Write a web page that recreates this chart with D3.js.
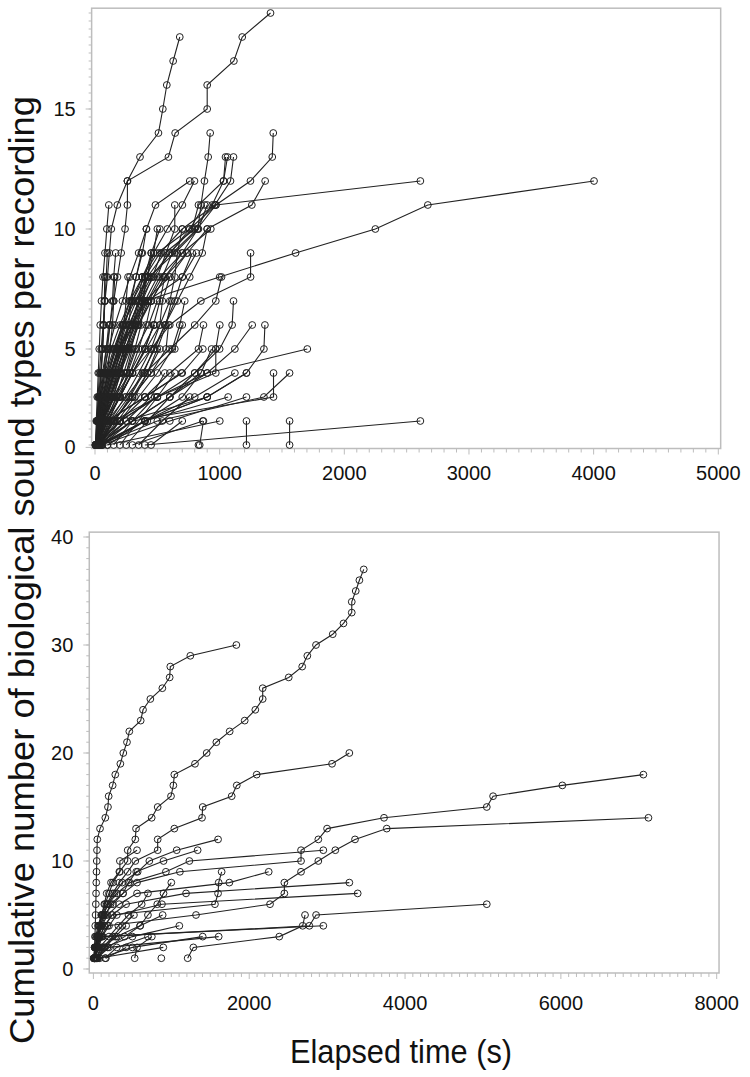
<!DOCTYPE html>
<html><head><meta charset="utf-8">
<script src="https://cdn.jsdelivr.net/npm/d3@7"></script>
<style>body{margin:0;background:#fff;} svg{display:block;font-family:"Liberation Sans",Arial,sans-serif;}</style>
</head><body><svg id="chart" width="750" height="1077"></svg>
<script>
// ---------- data ----------
const topXTicks = [0, 1000, 2000, 3000, 4000, 5000];
const topYTicks = [5, 10, 15];
const topYTickLabels = ["0", "5", "10", "15"];
const bottomXTicks = [0, 2000, 4000, 6000, 8000];
const bottomYTicks = [0, 10, 20, 30, 40];
const xTitle = "Elapsed time (s)";
const yTitle = "Cumulative number of biological sound types per recording";

// each series: [elapsed time (s), cumulative number of sound types]
const topSeries = [
 [[5,1],[15,2],[25,3],[35,4],[50,5],[65,6],[80,7],[100,8],[115,9],[131,10],[179,11],[260,12],[361,13],[509,14],[544,15],[576,16],[627,17],[680,18]],
 [[10,1],[20,2],[40,3],[60,4],[90,5],[120,6],[150,7],[180,8],[210,9],[241,10],[260,11],[260,12],[589,13],[643,14],[900,15],[900,16],[1114,17],[1181,18],[1408,19]],
 [[20,1],[40,2],[80,3],[130,4],[200,5],[300,6],[420,7],[520,8],[700,9],[825,10],[850,11],[878,12],[908,13],[924,14]],
 [[30,1],[70,2],[130,3],[200,4],[280,5],[350,6],[430,7],[540,8],[620,9],[820,10],[970,11],[1247,12],[1422,13],[1430,14]],
 [[15,1],[30,2],[60,3],[110,4],[170,5],[230,6],[300,7],[400,8],[520,9],[700,10],[960,11],[1087,12],[1111,13]],
 [[10,1],[25,2],[55,3],[90,4],[150,5],[220,6],[320,7],[420,8],[560,9],[800,10],[940,11],[1031,12],[1063,13]],
 [[12,1],[35,2],[70,3],[120,4],[190,5],[270,6],[360,7],[470,8],[600,9],[780,10],[830,11],[1031,12],[1047,13]],
 [[25,1],[60,2],[120,3],[180,4],[260,5],[340,6],[450,7],[560,8],[740,9],[900,10],[1258,11],[1365,12]],
 [[8,1],[20,2],[45,3],[80,4],[130,5],[200,6],[280,7],[380,8],[500,9],[760,10],[970,11],[2610,12]],
 [[30,1],[60,2],[100,3],[150,4],[220,5],[300,6],[400,7],[1000,8],[1609,9],[2249,10],[2670,11],[4003,12]],
 [[10,1],[30,2],[60,3],[100,4],[160,5],[230,6],[300,7],[380,8],[470,9],[580,10],[701,11],[798,12]],
 [[5,1],[20,2],[40,3],[70,4],[110,5],[160,6],[220,7],[280,8],[350,9],[413,10],[485,11],[760,12]],
 [[20,1],[50,2],[90,3],[140,4],[200,5],[280,6],[350,7],[450,8],[600,9],[760,10],[880,11]],
 [[15,1],[45,2],[80,3],[130,4],[190,5],[250,6],[330,7],[430,8],[640,9],[830,10],[900,11]],
 [[25,1],[55,2],[100,3],[160,4],[240,5],[320,6],[400,7],[500,8],[570,9],[640,10],[640,11]],
 [[10,1],[30,2],[60,3],[110,4],[160,5],[220,6],[280,7],[330,8],[380,9],[412,10]],
 [[20,1],[50,2],[90,3],[150,4],[210,5],[280,6],[350,7],[420,8],[453,9],[520,10]],
 [[30,1],[70,2],[120,3],[190,4],[270,5],[350,6],[450,7],[560,8],[700,9],[929,10]],
 [[5,1],[15,2],[30,3],[45,4],[60,5],[70,6],[80,7],[90,8],[99,9]],
 [[10,1],[25,2],[50,3],[80,4],[100,5],[120,6],[140,7],[150,8],[166,9]],
 [[20,1],[40,2],[80,3],[130,4],[180,5],[240,6],[290,7],[330,8],[372,9]],
 [[15,1],[40,2],[90,3],[150,4],[220,5],[300,6],[380,7],[460,8],[533,9]],
 [[30,1],[60,2],[110,3],[170,4],[240,5],[330,6],[420,7],[701,8],[814,9]],
 [[25,1],[80,2],[200,3],[300,4],[450,5],[600,6],[849,7],[1248,8],[1248,9]],
 [[5,1],[30,2],[70,3],[120,4],[190,5],[280,6],[400,7],[600,8],[739,9]],
 [[5,1],[20,2],[35,3],[50,4],[60,5],[70,6],[75,7],[78,8]],
 [[15,1],[40,2],[70,3],[100,4],[120,5],[140,6],[150,7],[158,8]],
 [[10,1],[50,2],[100,3],[160,4],[200,5],[230,6],[250,7],[265,8]],
 [[20,1],[60,2],[150,3],[250,4],[320,5],[370,6],[390,7],[399,8]],
 [[30,1],[100,2],[200,3],[300,4],[400,5],[470,6],[520,7],[560,8]],
 [[10,1],[100,2],[250,3],[400,4],[600,5],[800,6],[969,7],[1015,8]],
 [[10,1],[20,2],[35,3],[50,4],[60,5],[70,6],[78,7]],
 [[20,1],[60,2],[120,3],[180,4],[230,5],[270,6],[292,7]],
 [[15,1],[80,2],[180,3],[280,4],[350,5],[410,6],[453,7]],
 [[40,1],[150,2],[300,3],[420,4],[500,5],[570,6],[613,7]],
 [[20,1],[200,2],[500,3],[800,4],[1000,5],[1100,6],[1111,7]],
 [[10,1],[30,2],[50,3],[70,4],[90,5],[110,6]],
 [[20,1],[80,2],[200,3],[300,4],[400,5],[470,6]],
 [[30,1],[150,2],[300,3],[450,4],[570,5],[590,6]],
 [[10,1],[200,2],[400,3],[600,4],[830,5],[870,6]],
 [[50,1],[300,2],[600,3],[800,4],[969,5],[1001,6]],
 [[20,1],[150,2],[500,3],[900,4],[1122,5],[1261,6]],
 [[40,1],[400,2],[900,3],[1215,4],[1355,5],[1363,6]],
 [[10,1],[300,2],[600,3],[900,4],[1703,5]],
 [[30,1],[200,2],[500,3],[969,4],[969,5]],
 [[15,1],[100,2],[400,3],[700,4],[865,5]],
 [[60,1],[400,2],[700,3],[850,4],[935,5]],
 [[20,1],[80,2],[150,3],[250,4],[300,5]],
 [[5,1],[40,2],[120,3],[200,4],[240,5]],
 [[30,1],[500,2],[1355,3],[1561,4]],
 [[20,1],[300,2],[1432,3],[1432,4]],
 [[10,1],[250,2],[900,3],[1215,4]],
 [[40,1],[400,2],[800,3],[1122,4]],
 [[10,1],[100,2],[400,3],[694,4]],
 [[50,1],[600,2],[1215,3]],
 [[20,1],[400,2],[1068,3]],
 [[100,1],[400,2],[900,3]],
 [[400,1],[2610,2]],
 [[1561,1],[1561,2]],
 [[1215,1],[1215,2]],
 [[100,1],[1001,2]],
 [[300,1],[865,2]],
 [[840,1],[870,2]],
 [[830,1]],
 [[5,1],[50,2],[150,3],[200,4],[250,5],[300,6],[350,7],[380,8]],
 [[15,1],[100,2],[200,3],[260,4],[330,5],[430,6],[500,7]],
 [[30,1],[120,2],[240,3],[350,4],[450,5],[520,6],[540,7],[600,8]],
 [[8,1],[60,2],[160,3],[280,4],[380,5],[480,6]],
 [[20,1],[180,2],[320,3],[420,4],[520,5]],
 [[40,1],[250,2],[450,3],[560,4]],
 [[10,1],[140,2],[300,3],[450,4],[640,5],[700,6]],
 [[60,1],[200,2],[350,3],[500,4],[620,5],[680,6],[720,7]],
 [[25,1],[90,2],[170,3],[230,4],[290,5],[340,6],[380,7],[420,8],[470,9],[500,10]],
 [[12,1],[70,2],[140,3],[210,4],[260,5],[310,6],[360,7],[400,8],[450,9]],
 [[35,1],[110,2],[190,3],[300,4],[410,5],[520,6],[600,7],[640,8],[660,9],[700,10]],
 [[200,1],[350,2],[500,3],[640,4]],
 [[150,1],[300,2],[480,3]],
 [[250,1],[420,2],[600,3],[850,4]],
 [[350,1],[540,2],[760,3]],
 [[450,1],[700,2]],
 [[5,1],[10,2],[18,3],[26,4],[34,5],[42,6],[52,7],[64,8],[80,9],[95,10],[111,11]],
 [[40,1],[130,2],[270,3],[380,4],[480,5],[560,6],[640,7],[700,8],[780,9]],
 [[18,1],[160,2],[280,3],[390,4],[470,5],[560,6],[660,7],[760,8],[860,9],[900,10]]
];

const bottomSeries = [
 [[10,1],[15,2],[20,3],[24,4],[28,5],[31,6],[34,7],[37,8],[40,9],[43,10],[46,11],[50,12],[85,13],[153,14],[187,15],[196,16],[247,17],[281,18],[346,19],[384,20],[431,21],[461,22],[607,23],[637,24],[731,25],[885,26],[979,27],[987,28],[1244,29],[1835,30]],
 [[5,1],[24,2],[55,3],[76,4],[110,5],[140,6],[171,7],[226,8],[333,9],[440,10],[440,11],[538,12],[547,13],[748,14],[825,15],[996,16],[1026,17],[1039,18],[1304,19],[1454,20],[1578,21],[1749,22],[1942,23],[2078,24],[2173,25],[2173,26],[2507,27],[2680,28],[2746,29],[2857,30],[3072,31],[3210,32],[3316,33],[3316,34],[3367,35],[3414,36],[3470,37]],
 [[15,1],[30,2],[45,3],[70,4],[110,5],[171,6],[248,7],[333,8],[440,9],[538,10],[825,11],[825,12],[1039,13],[1394,14],[1403,15],[1775,16],[1840,17],[2096,18],[3063,19],[3285,20]],
 [[15,1],[40,2],[60,3],[90,4],[140,5],[250,6],[380,7],[560,8],[1110,9],[2665,10],[2665,11],[2887,12],[2999,13],[3730,14],[5049,15],[5130,16],[6019,17],[7059,18]],
 [[20,1],[50,2],[100,3],[180,4],[1317,5],[2267,6],[2451,7],[2451,8],[2665,9],[2887,10],[3105,11],[3358,12],[3765,13],[7124,14]],
 [[10,1],[30,2],[55,3],[90,4],[130,5],[185,6],[270,7],[370,8],[568,9],[718,10],[1069,11],[1600,12]],
 [[5,1],[20,2],[45,3],[75,4],[120,5],[190,6],[300,7],[470,8],[930,9],[1232,10],[2951,11]],
 [[10,1],[35,2],[70,3],[110,4],[180,5],[330,6],[560,7],[1745,8],[2250,9]],
 [[15,1],[40,2],[80,3],[150,4],[240,5],[1560,6],[1600,7],[1608,8],[1646,9]],
 [[20,1],[45,2],[85,3],[140,4],[240,5],[420,6],[1189,7],[3285,8]],
 [[25,1],[60,2],[110,3],[200,4],[300,5],[880,6],[3392,7]],
 [[20,1],[60,2],[120,3],[2772,4],[2858,5],[5049,6]],
 [[1210,1],[1283,2],[2386,3],[2686,4],[2716,5]],
 [[10,1],[40,2],[100,3],[2951,4]],
 [[50,1],[200,2],[1608,3]],
 [[80,1],[500,2],[1403,3]],
 [[40,1],[140,2],[500,3],[1103,4]],
 [[15,1],[40,2],[60,3],[100,4],[160,5],[220,6],[380,7],[450,8],[550,9],[900,10],[1338,11]],
 [[30,1],[100,2],[300,3],[600,4],[889,5]],
 [[872,1]],
 [[60,1],[897,2]],
 [[150,1],[300,2],[700,3]],
 [[5,1],[15,2],[30,3],[60,4],[100,5],[150,6],[200,7],[250,8],[340,9],[340,10],[560,11]],
 [[160,1],[420,2]],
 [[530,1],[560,2],[750,3]],
 [[40,1],[180,2],[400,3],[600,4],[700,5],[820,6],[900,7],[1000,8]],
 [[10,1],[80,2],[200,3],[320,4],[450,5],[620,6],[700,7]],
 [[30,1],[120,2],[250,3],[370,4],[520,5]],
 [[50,1],[150,2],[280,3],[420,4]]
];

// ---------- drawing ----------
const svg = d3.select("#chart");
const AXIS = "#bdbdbd";
const INK = "#222";

function drawPanel(cfg) {
  const g = svg.append("g");
  const x = d3.scaleLinear().domain(cfg.xDomain).range(cfg.xRange);
  const y = d3.scaleLinear().domain(cfg.yDomain).range(cfg.yRange);
  const L = x(cfg.xMin), R = x(cfg.xMax), T = y(cfg.yMax), B = y(cfg.yMin);

  g.append("rect").attr("x", L).attr("y", T).attr("width", R - L).attr("height", B - T)
    .attr("fill", "none").attr("stroke", AXIS).attr("stroke-width", 1.5);

  d3.range(cfg.xDomain[0], cfg.xDomain[1] + 1, cfg.xMinor).forEach(v => {
    const major = cfg.xTicks.includes(v);
    g.append("line").attr("x1", x(v)).attr("x2", x(v)).attr("y1", B).attr("y2", B + (major ? 6 : 4))
      .attr("stroke", AXIS).attr("stroke-width", 1);
  });
  g.selectAll(".xl").data(cfg.xTicks).enter().append("text")
    .attr("x", d => x(d)).attr("y", B + cfg.xLabelOffset)
    .attr("text-anchor", "middle").attr("font-size", 20).attr("fill", "#111")
    .text(d => d);

  d3.range(0, 400).map(i => cfg.yMinorStart + i * cfg.yMinor).filter(v => v <= cfg.yMax + 1e-6 && v >= cfg.yMin - 1e-6)
    .forEach(v => {
      g.append("line").attr("x1", L - 3).attr("x2", L).attr("y1", y(v)).attr("y2", y(v))
        .attr("stroke", AXIS).attr("stroke-width", 1);
    });
  cfg.yLabels.forEach(([v, lab]) => {
    g.append("line").attr("x1", L - 6).attr("x2", L).attr("y1", y(v)).attr("y2", y(v))
      .attr("stroke", AXIS).attr("stroke-width", 1);
    g.append("text").attr("x", L - 16).attr("y", y(v)).attr("dy", "0.35em")
      .attr("text-anchor", "end").attr("font-size", 20).attr("fill", "#111").text(lab);
  });

  const line = d3.line().x(d => x(d[0])).y(d => y(d[1]));
  g.selectAll(".ln").data(cfg.series).enter().append("path")
    .attr("d", line).attr("fill", "none").attr("stroke", INK).attr("stroke-width", 1.1);
  cfg.series.forEach(s => {
    g.selectAll(null).data(s).enter().append("circle")
      .attr("cx", d => x(d[0])).attr("cy", d => y(d[1])).attr("r", 3.4)
      .attr("fill", "none").attr("stroke", INK).attr("stroke-width", 1);
  });
}

drawPanel({
  xDomain: [0, 5000], xRange: [95, 718.3], xMin: -27, xMax: 5019,
  yDomain: [1, 19], yRange: [445, 13], yMin: 0.854, yMax: 19.2,
  xTicks: topXTicks, xMinor: 100, xLabelOffset: 31,
  yMinor: 1 / 3, yMinorStart: 1 / 3,
  yLabels: [[0.9, topYTickLabels[0]]].concat(topYTicks.map((v, i) => [v, topYTickLabels[i + 1]])),
  series: topSeries
});

drawPanel({
  xDomain: [0, 8000], xRange: [93.4, 716.7], xMin: -53, xMax: 8030,
  yDomain: [0, 40], yRange: [969, 537], yMin: -0.37, yMax: 40.45,
  xTicks: bottomXTicks, xMinor: 100, xLabelOffset: 37,
  yMinor: 1, yMinorStart: 0,
  yLabels: bottomYTicks.map(v => [v, String(v)]),
  series: bottomSeries
});

svg.append("text").attr("x", 401).attr("y", 1063).attr("text-anchor", "middle")
  .attr("font-size", 34).attr("textLength", 222).attr("lengthAdjust", "spacingAndGlyphs")
  .attr("fill", "#111").text(xTitle);
svg.append("text").attr("transform", "translate(34,570) rotate(-90)").attr("text-anchor", "middle")
  .attr("font-size", 35).attr("textLength", 948).attr("lengthAdjust", "spacingAndGlyphs")
  .attr("fill", "#111").text(yTitle);
</script></body></html>
